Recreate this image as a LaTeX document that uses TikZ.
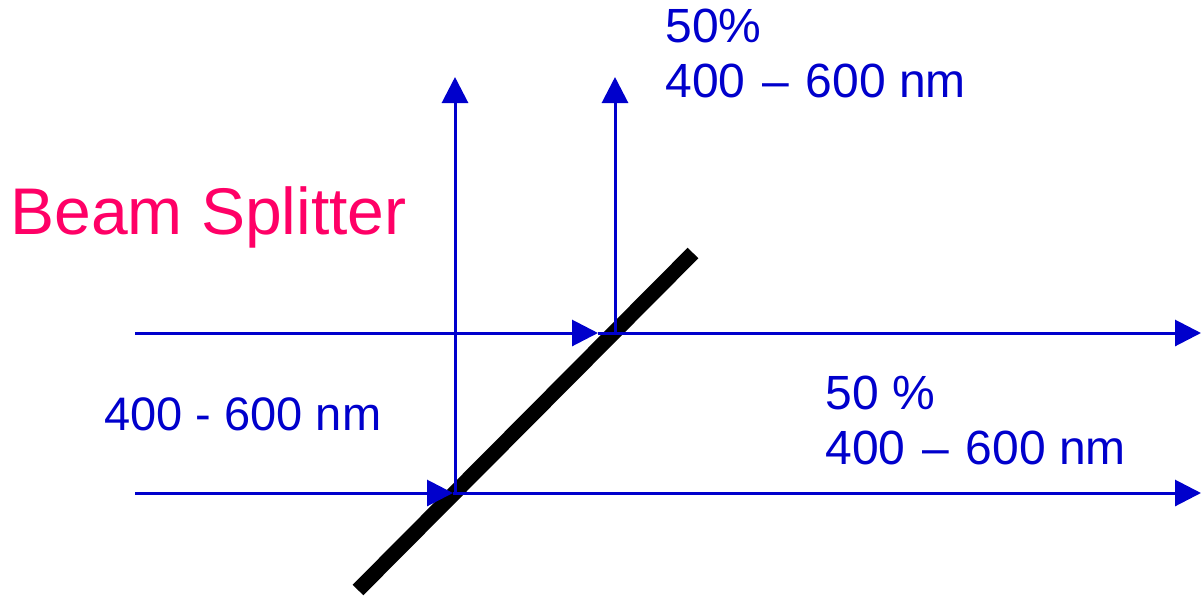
\documentclass[tikz,border=0pt]{standalone}
\usepackage{fontspec}
\setmainfont{Liberation Sans}
\usetikzlibrary{arrows.meta, positioning}
\definecolor{beamblue}{HTML}{0000CC}
\definecolor{labelpink}{HTML}{FF0066}

\begin{document}
\begin{tikzpicture}[
    x=0.5pt, y=-0.5pt,
    beam/.style={draw=beamblue, line width=1.5pt},
    arr/.style={beam, -{Triangle[length=13pt, width=13pt]}},
    lbl/.style={text=beamblue, inner sep=0pt, anchor=base west, font=\fontsize{24}{28}\selectfont},
    title/.style={text=labelpink, inner sep=0pt, anchor=base west, font=\fontsize{33}{39}\selectfont},
    mirror/.style={draw=black, line width=7.5pt}
]
\useasboundingbox (0,0) rectangle (1201,596);

% beam ends and splitter
\coordinate (inA) at (135,333);
\coordinate (inB) at (135,493);
\coordinate (hitA) at (598,333);
\coordinate (hitB) at (453,493);
\coordinate (outA) at (1201,333);
\coordinate (outB) at (1201,493);
\coordinate (upA) at (615,77);
\coordinate (upB) at (455,77);
\coordinate (turnA) at (615,333);
\coordinate (turnB) at (455,493);
\coordinate (bsLow) at (358,590);
\coordinate (bsHigh) at (693,253);

\draw[mirror] (bsLow) -- (bsHigh);

\draw[arr] (inA) -- (hitA);
\draw[arr] (inB) -- (hitB);
\draw[arr] (hitA) -- (outA);
\draw[arr] (hitB) -- (outB);
\draw[arr] (turnA) -- (upA);
\draw[arr] (turnB) -- (upB);

\node[title] (bs) at (10,234) {Beam Splitter};
\node[lbl, font=\fontsize{23.5}{28}\selectfont] (input) at (104,430) {400 - 600 nm};
\node[lbl] (reflPct) at (665,42) {50\%};
\node[lbl] (reflRange) at (665,97) {400\hspace{0.35em}--\hspace{0.35em}600 nm};
\node[lbl] (transPct) at (825,409) {50 \%};
\node[lbl] (transRange) at (825,464) {400\hspace{0.35em}--\hspace{0.35em}600 nm};
\end{tikzpicture}
\end{document}
